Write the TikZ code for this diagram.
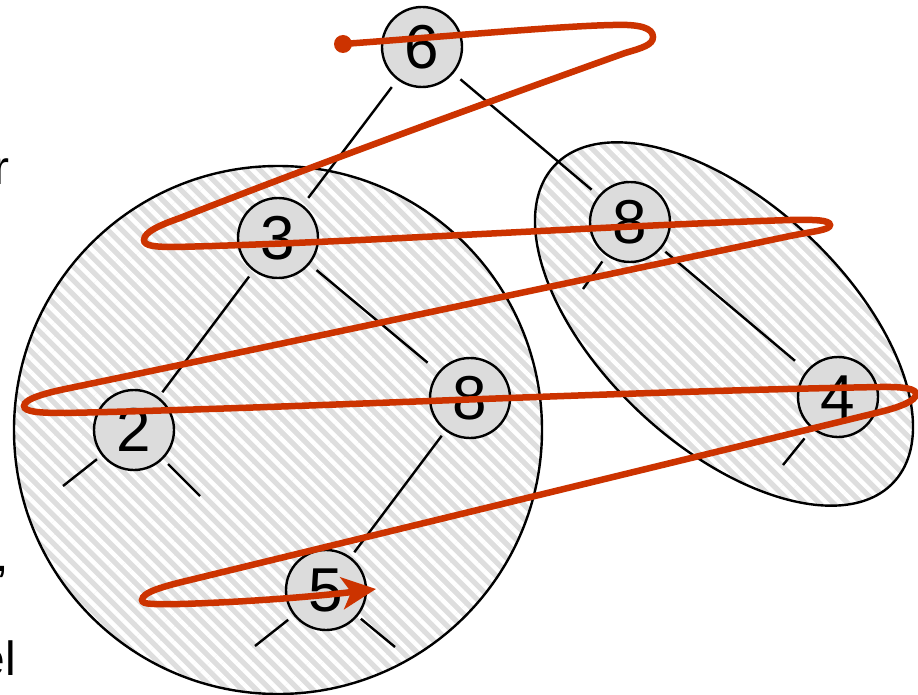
\documentclass[tikz,border=0pt]{standalone}
\usepackage{fontspec}
\setmainfont{Liberation Sans}
\usetikzlibrary{patterns.meta,arrows.meta}
\definecolor{trail}{RGB}{204,51,0}
\definecolor{hatchbg}{RGB}{222,222,222}
\definecolor{nodegray}{RGB}{220,220,220}
\begin{document}
\begin{tikzpicture}[x=1pt,y=-1pt,
  hatch/.style={draw=black,line width=2.4pt,preaction={fill=hatchbg},
    pattern={Lines[angle=-45,distance=10pt,line width=4.5pt]},pattern color=white},
  vtx/.style={circle,draw=black,line width=2.4pt,fill=nodegray,minimum size=80pt,
    inner sep=0pt,font=\fontsize{62}{62}\selectfont},
  tedge/.style={line width=2.4pt,shorten <=9pt,shorten >=9pt},
  stub/.style={line width=2.4pt,shorten <=7pt},
  frag/.style={anchor=base east,inner sep=0pt,font=\fontsize{48}{48}\selectfont},
  trailline/.style={draw=trail,line width=6.5pt,line cap=round}]
\useasboundingbox (0,0) rectangle (918,695);
\fill[white] (0,0) rectangle (918,695);
% groups
\path[hatch] (278,430) circle[radius=264pt];
\path[hatch,rotate around={-43:(724,324)}] (724,324) ellipse[x radius=232pt,y radius=122pt];
% text fragments at left edge
\node[frag] (fr) at (10,185) {r};
\node[frag] (fc) at (9,571) {,};
\node[frag] (fe) at (16,675) {el};
% vertices
\node[vtx] (n6) at (422,47) {6};
\node[vtx] (n3) at (278,238) {3};
\node[vtx] (n8a) at (470,398) {8};
\node[vtx] (n2) at (134,430) {2};
\node[vtx] (n5) at (326,590) {5};
\node[vtx] (n8b) at (630,222) {8};
\node[vtx] (n4) at (838,397) {4};
% stub ends
\coordinate (s2a) at (63,486);
\coordinate (s2b) at (200,496);
\coordinate (s5a) at (255,646);
\coordinate (s5b) at (395,647);
\coordinate (s8b) at (583,289);
\coordinate (s4) at (783,465);
% edges
\draw[tedge] (n6) -- (n3);
\draw[tedge] (n6) -- (n8b);
\draw[tedge,shorten <=7pt,shorten >=6pt] (n3) -- (n2);
\draw[tedge,shorten >=14pt] (n3) -- (n8a);
\draw[tedge,shorten <=6pt,shorten >=6pt] (n8a) -- (n5);
\draw[tedge,shorten <=5pt,shorten >=15pt] (n8b) -- (n4);
\draw[stub,shorten <=6pt] (n2) -- (s2a);
\draw[stub] (n2) -- (s2b);
\draw[stub] (n5) -- (s5a);
\draw[stub,shorten <=4pt] (n5) -- (s5b);
\draw[stub] (n8b) -- (s8b);
\draw[stub,shorten <=12pt] (n4) -- (s4);
% red traversal
\coordinate (tstart) at (343,44);
\coordinate (tend) at (376,589);
\fill[trail] (tstart) circle[radius=9pt];
\draw[trailline,-{Stealth[length=34pt,width=32pt,inset=9pt]}]
  (tstart) .. controls (440,37) and (560,26) .. (613,25)
  .. controls (640,24) and (653,28) .. (653,37)
  .. controls (653,45) and (642,48) .. (625,53)
  .. controls (480,105) and (320,163) .. (180,218)
  .. controls (160,225) and (144,232) .. (144,240)
  .. controls (144,246) and (155,247) .. (175,247)
  .. controls (350,243) and (600,226) .. (790,220)
  .. controls (815,219.5) and (830,220) .. (830,225)
  .. controls (830,230) and (815,231) .. (790,236)
  .. controls (600,276) and (300,340) .. (70,388)
  .. controls (45,393) and (24,399) .. (24,406)
  .. controls (24,412) and (40,413) .. (65,413)
  .. controls (300,408) and (600,392) .. (880,387)
  .. controls (905,386.5) and (916,389) .. (916,394)
  .. controls (916,401) and (900,407) .. (880,412)
  .. controls (650,468) and (420,524) .. (190,580)
  .. controls (165,586) and (142,592) .. (142,600)
  .. controls (142,605) and (155,604) .. (180,604)
  .. controls (250,602) and (320,596) .. (tend);
\end{tikzpicture}
\end{document}
